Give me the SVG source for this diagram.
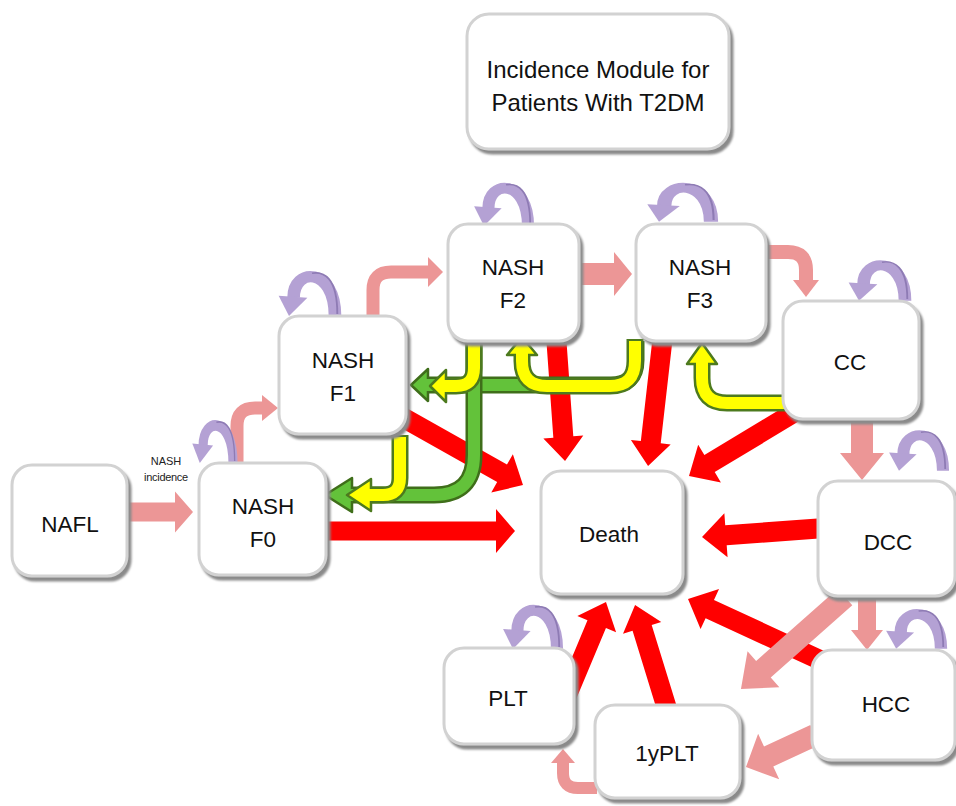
<svg xmlns="http://www.w3.org/2000/svg" xmlns:xlink="http://www.w3.org/1999/xlink" width="956" height="806" viewBox="0 0 956 806">
<style>
.box{fill:#ffffff;stroke:#d2d2d2;stroke-width:3;filter:url(#sh)}
.lbl{font-family:"Liberation Sans",Arial,sans-serif;font-size:22.5px;fill:#111;text-anchor:middle}
.ttl{font-family:"Liberation Sans",Arial,sans-serif;font-size:24px;fill:#111;text-anchor:middle}
.sm{font-family:"Liberation Sans",Arial,sans-serif;font-size:11px;fill:#222;text-anchor:middle}
.red{fill:#ff0000}
.pink{fill:#ec9696}
.pinks{fill:none;stroke:#ec9696;stroke-width:13}
.yo{fill:none;stroke:#4d7a1e;stroke-width:17}
.yi{fill:none;stroke:#ffff00;stroke-width:12}
.yh{fill:#ffff00;stroke:#4d7a1e;stroke-width:2.5;stroke-linejoin:round}
.go{fill:none;stroke:#3f6e1a;stroke-width:17}
.gi{fill:none;stroke:#63c23a;stroke-width:12}
.gh{fill:#63c23a;stroke:#3f6e1a;stroke-width:2.5;stroke-linejoin:round}
</style>
<defs>
<filter id="sh" x="-10%" y="-10%" width="125%" height="125%">
<feDropShadow dx="3" dy="4" stdDeviation="1.2" flood-color="#8a8a8a" flood-opacity="1"/>
</filter>
<g id="loop">
<path d="M0,2 C0,-46 -36,-46 -36,-16" fill="none" stroke="#b4a1d4" stroke-width="11"/>
<path d="M2,0 C2,-36 -10,-42 -20,-40" fill="none" stroke="#8e7bb4" stroke-width="1.6"/>
<polygon points="-49,-18 -24,-16 -40,2" fill="#b4a1d4"/>
</g>
</defs>
<rect width="956" height="806" fill="#ffffff"/>

<g id="connectors">
<!-- red arrows to Death -->
<polygon class="red" transform="translate(395,413) rotate(29.4)" points="0,-10 122.9,-10 122.9,-22 146.9,0 122.9,22 122.9,10 0,10"/>
<polygon class="red" transform="translate(320,531)" points="0,-9.5 176,-9.5 176,-22 195,0 176,22 176,9.5 0,9.5"/>
<polygon class="red" transform="translate(556,335) rotate(85.9)" points="0,-10 102.3,-10 102.3,-20 126.3,0 102.3,20 102.3,10 0,10"/>
<polygon class="red" transform="translate(663,335) rotate(96.5)" points="0,-10 107.9,-10 107.9,-20 131.9,0 107.9,20 107.9,10 0,10"/>
<polygon class="red" transform="translate(795,412) rotate(148.9)" points="0,-10 99.8,-10 99.8,-22 123.8,0 99.8,22 99.8,10 0,10"/>
<polygon class="red" transform="translate(825,528) rotate(175.8)" points="0,-10 99.3,-10 99.3,-22 123.3,0 99.3,22 99.3,10 0,10"/>
<polygon class="red" transform="translate(820,660) rotate(-155.2)" points="0,-10 121.4,-10 121.4,-22 145.4,0 121.4,22 121.4,10 0,10"/>
<polygon class="red" transform="translate(565,700) rotate(-67.3)" points="0,-10 82.2,-10 82.2,-21 106.2,0 82.2,21 82.2,10 0,10"/>
<polygon class="red" transform="translate(668,712) rotate(-107.1)" points="0,-10 88,-10 88,-20 112,0 88,20 88,10 0,10"/>

<!-- pink progression arrows -->
<polygon class="pink" points="120,502.5 175,502.5 175,491.5 193,512 175,532.5 175,521.5 120,521.5"/>
<path class="pinks" d="M237,463 V426 Q237,408 255,408 H264"/>
<polygon class="pink" points="262,395 278,408 262,421"/>
<path class="pinks" d="M373,318 V290 Q373,272 391,272 H430"/>
<polygon class="pink" points="428,257 443,272 428,287"/>
<polygon class="pink" points="578,263 614,263 614,252 632,274 614,296 614,285 578,285"/>
<path class="pinks" style="stroke-width:14" d="M765,252 H788 Q806,252 806,270 V282"/>
<polygon class="pink" points="793,280 806,297 819,280"/>
<polygon class="pink" points="851,418 851,453 840,453 862,480 884,453 873,453 873,418"/>
<polygon class="pink" points="858,598 858,630 851,630 867,650 883,630 876,630 876,598"/>
<polygon class="pink" transform="translate(845,597) rotate(138.5)" points="0,-11 108.9,-11 108.9,-24 138.9,0 108.9,24 108.9,11 0,11"/>
<polygon class="pink" transform="translate(815,735) rotate(155.1)" points="0,-11 51.1,-11 51.1,-25 76.1,0 51.1,25 51.1,11 0,11"/>
<path class="pinks" style="stroke-width:12" d="M597,788 H578 Q563,788 563,773 V762"/>
<polygon class="pink" points="551,763 563,749 575,763"/>

<!-- green regression arrows -->
<path class="go" d="M636,341 V360 Q636,385 611,385 H427"/>
<polygon class="gh" points="428,369 411,385 428,401"/>
<path class="gi" d="M636,343 V360 Q636,385 611,385 H423"/>
<path class="go" d="M474,341 V455 Q474,495 434,495 H351"/>
<polygon class="gh" points="352,478 325,495 352,512"/>
<path class="gi" d="M474,343 V455 Q474,495 434,495 H346"/>

<!-- yellow regression arrows -->
<path class="yo" d="M635,339 V361 Q635,386 610,386 H547 Q522,386 522,361 V356"/>
<polygon class="yh" points="507,355 522,337 537,355"/>
<path class="yi" d="M635,341 V361 Q635,386 610,386 H547 Q522,386 522,361 V351"/>
<path class="yo" d="M474,339 V368 Q474,386 456,386 H446"/>
<polygon class="yh" points="446,370 430,386 446,402"/>
<path class="yi" d="M474,341 V368 Q474,386 456,386 H441"/>
<path class="yo" d="M400,435 V478 Q400,495 383,495 H371"/>
<polygon class="yh" points="371,479 347,495 371,511"/>
<path class="yi" d="M400,437 V478 Q400,495 383,495 H366"/>
<path class="yo" d="M787,403 H727 Q702,403 702,378 V365"/>
<polygon class="yh" points="687,364 702,343 717,364"/>
<path class="yi" d="M785,403 H727 Q702,403 702,378 V360"/>

<!-- purple self loops -->
<use xlink:href="#loop" href="#loop" transform="translate(233,461) scale(0.83,0.97)"/>
<use xlink:href="#loop" href="#loop" transform="translate(335,314) scale(1.15,1.02)"/>
<use xlink:href="#loop" href="#loop" transform="translate(528,224) scale(1.1,0.98)"/>
<use xlink:href="#loop" href="#loop" transform="translate(711,220) scale(1.3,0.88)"/>
<use xlink:href="#loop" href="#loop" transform="translate(905,299) scale(1.15,0.92)"/>
<use xlink:href="#loop" href="#loop" transform="translate(943,469) scale(1.1,0.92)"/>
<use xlink:href="#loop" href="#loop" transform="translate(941,647) scale(1.12,0.9)"/>
<use xlink:href="#loop" href="#loop" transform="translate(557,647) scale(1.1,1.0)"/>

<text class="sm" x="166" y="465">NASH</text>
<text class="sm" x="166" y="481" letter-spacing="-0.3">incidence</text>
</g>

<g id="title">
<rect class="box" x="467" y="14" width="262" height="135" rx="22"/>
<text class="ttl" x="598" y="78">Incidence Module for</text>
<text class="ttl" x="598" y="111">Patients With T2DM</text>
</g>
<g id="nafl">
<rect class="box" x="12" y="465" width="115" height="111" rx="20"/>
<text class="lbl" x="70" y="532">NAFL</text>
</g>
<g id="nashf0">
<rect class="box" x="199" y="463" width="127" height="112" rx="20"/>
<text class="lbl" x="263" y="514">NASH</text>
<text class="lbl" x="263" y="547">F0</text>
</g>
<g id="nashf1">
<rect class="box" x="279" y="316" width="127" height="118" rx="20"/>
<text class="lbl" x="343" y="368">NASH</text>
<text class="lbl" x="343" y="401">F1</text>
</g>
<g id="nashf2">
<rect class="box" x="448" y="224" width="131" height="117" rx="20"/>
<text class="lbl" x="513" y="275">NASH</text>
<text class="lbl" x="513" y="308">F2</text>
</g>
<g id="nashf3">
<rect class="box" x="636" y="224" width="130" height="117" rx="20"/>
<text class="lbl" x="700" y="275">NASH</text>
<text class="lbl" x="700" y="308">F3</text>
</g>
<g id="cc">
<rect class="box" x="783" y="301" width="136" height="118" rx="20"/>
<text class="lbl" x="850" y="370">CC</text>
</g>
<g id="death">
<rect class="box" x="541" y="471" width="142" height="123" rx="20"/>
<text class="lbl" x="609" y="542">Death</text>
</g>
<g id="dcc">
<rect class="box" x="818" y="481" width="137" height="115" rx="20"/>
<text class="lbl" x="888" y="550">DCC</text>
</g>
<g id="hcc">
<rect class="box" x="812" y="650" width="143" height="110" rx="20"/>
<text class="lbl" x="886" y="712">HCC</text>
</g>
<g id="plt">
<rect class="box" x="444" y="648" width="130" height="96" rx="20"/>
<text class="lbl" x="508" y="706">PLT</text>
</g>
<g id="oneyplt">
<rect class="box" x="595" y="705" width="145" height="93" rx="20"/>
<text class="lbl" x="667" y="761">1yPLT</text>
</g>
</svg>
